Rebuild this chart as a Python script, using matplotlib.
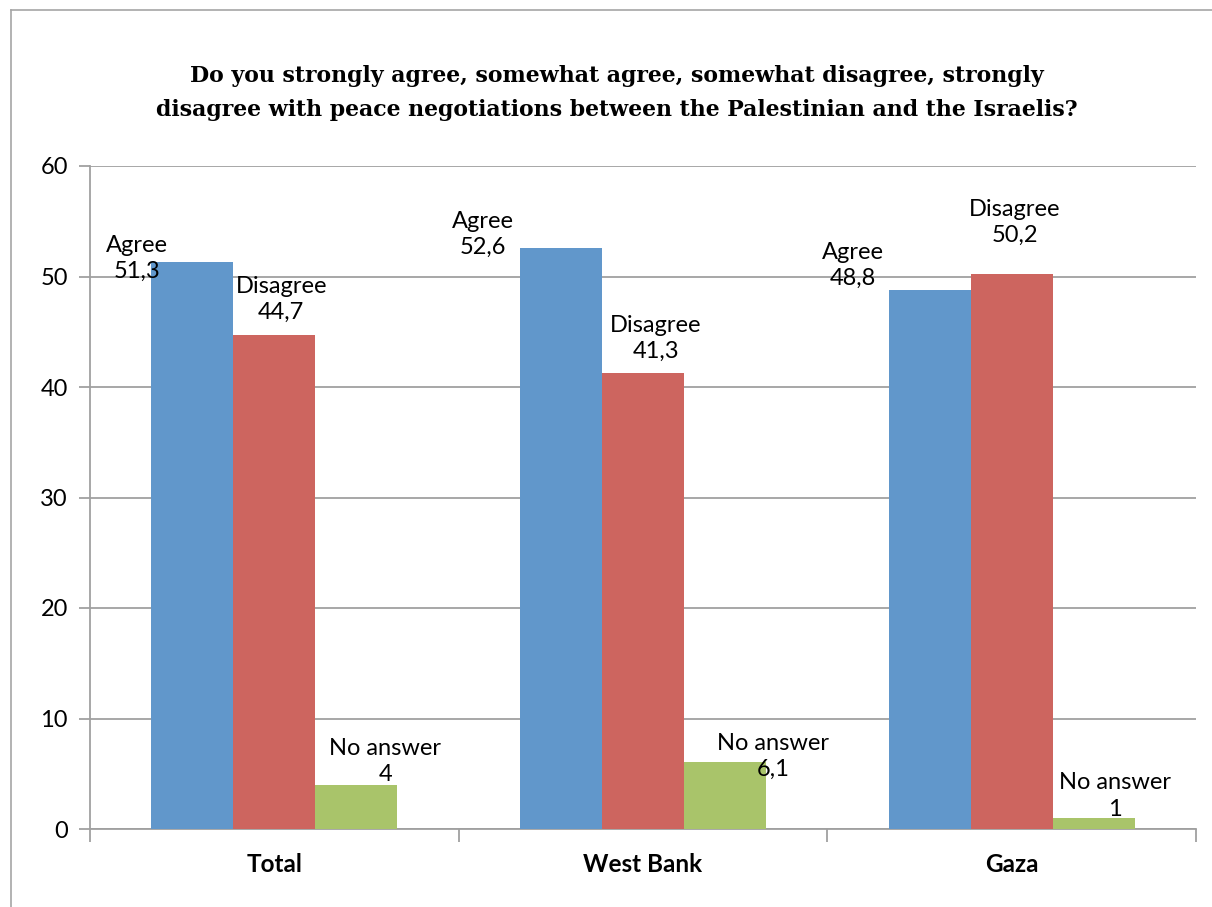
import numpy as np
import matplotlib.pyplot as plt
from matplotlib.lines import Line2D

regions = ['Total', 'West Bank', 'Gaza']
series = ['Agree', 'Disagree', 'No answer']
agree = [51.3, 52.6, 48.8]
disagree = [44.7, 41.3, 50.2]
no_answer = [4, 6.1, 1]
colors = ['#6197CB', '#CD655F', '#A9C46A']

# label offsets (pixels) from bar top centre, as placed in the original
label_offsets = [
    [(-55, 4), (-78, 13), (-77, 24)],
    [(7, 36), (13, 34), (3, 52)],
    [(29, 23), (48, 5), (21, 22)],
]

fig = plt.figure(figsize=(12.12, 9.07), dpi=100)
ax = fig.add_axes([90/1212, 78/907, 1106/1212, 663/907])

# outer chart frame
fig.add_artist(Line2D([11/1212, 11/1212], [0, 1-10/907], color='#a6a6a6', lw=1.2))
fig.add_artist(Line2D([11/1212, 1], [1-10/907, 1-10/907], color='#a6a6a6', lw=1.2))

x = np.arange(len(regions))
w = 0.2222
lab_font = 'Lato'
for i, (vals, name) in enumerate(zip([agree, disagree, no_answer], series)):
    pos = x + (i - 1) * w
    ax.bar(pos, vals, width=w, color=colors[i], zorder=3)
    for j, v in enumerate(vals):
        txt = name + '\n' + f'{v:g}'.replace('.', ',')
        ax.annotate(txt, (pos[j], v), xytext=label_offsets[i][j], textcoords='offset pixels',
                    ha='center', va='center', fontsize=17, family=lab_font,
                    linespacing=1.3, zorder=4)

ax.set_ylim(0, 60)
ax.set_xlim(-0.5, 2.5)
ax.set_yticks(range(0, 61, 10))
ax.yaxis.grid(True, color='#a0a0a0', lw=1.3, zorder=0)
ax.tick_params(axis='y', length=8, width=1.3, color='#a0a0a0', labelsize=17, pad=8)
for t in ax.get_yticklabels():
    t.set_family(lab_font)

ax.set_xticks([-0.5, 0.5, 1.5, 2.5])
ax.set_xticklabels([])
ax.tick_params(axis='x', length=9, width=1.3, color='#a0a0a0')
ax.set_xticks(x, minor=True)
ax.set_xticklabels(regions, minor=True, fontsize=17.5, fontweight='bold', family=lab_font)
ax.tick_params(axis='x', which='minor', length=0, pad=17)

for s in ['top', 'right']:
    ax.spines[s].set_visible(False)
for s in ['left', 'bottom']:
    ax.spines[s].set_color('#a0a0a0')
    ax.spines[s].set_linewidth(1.3)

fig.text(617/1212, 1-93/907,
         'Do you strongly agree, somewhat agree, somewhat disagree, strongly\n'
         'disagree with peace negotiations between the Palestinian and the Israelis?',
         ha='center', va='center', fontsize=15.8, fontweight='bold',
         family='DejaVu Serif', linespacing=1.75)

fig.savefig('out.png', dpi=100)
